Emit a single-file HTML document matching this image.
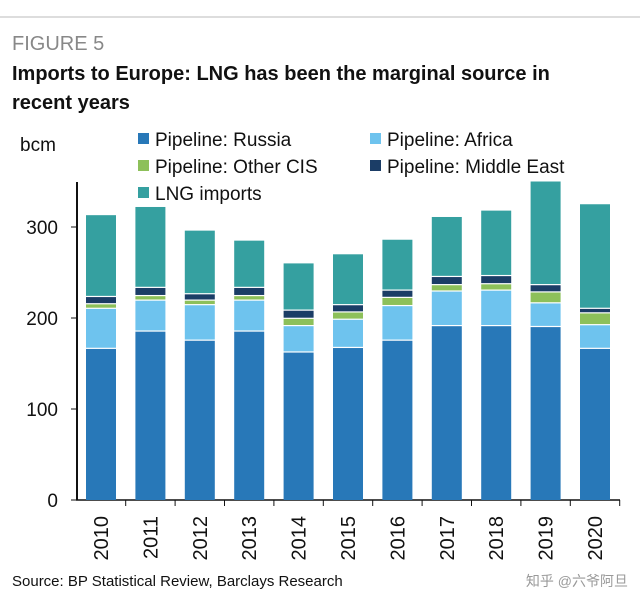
<!DOCTYPE html>
<html><head><meta charset="utf-8"><style>
body{margin:0;background:#fff;width:640px;height:601px;overflow:hidden;font-family:"Liberation Sans","Noto Sans CJK SC",sans-serif}
</style></head><body>
<svg width="640" height="601" xmlns="http://www.w3.org/2000/svg" font-family="Liberation Sans, Noto Sans CJK SC, sans-serif">
<line x1="0" y1="17" x2="640" y2="17" stroke="#bbb"/>
<text x="12" y="50" font-size="20" fill="#888">FIGURE 5</text>
<text x="12" y="80" font-size="20" font-weight="bold" fill="#111">Imports to Europe: LNG has been the marginal source in</text>
<text x="12" y="109" font-size="20" font-weight="bold" fill="#111">recent years</text>
<text x="20" y="151" font-size="19" fill="#111">bcm</text>
<g id="legend" font-size="19" fill="#111"></g>
<g id="axes"></g>
<g id="bars"></g>
<text x="12" y="586" font-size="15" fill="#111">Source: BP Statistical Review, Barclays Research</text>
<text x="628" y="586" font-size="14" fill="#999" text-anchor="end">知乎 @六爷阿旦</text>
</svg>
<script>
const years=["2010","2011","2012","2013","2014","2015","2016","2017","2018","2019","2020"];
const russia=[166,185,175,185,162,167,175,191,191,190,166];
const africa=[44,34,39,34,29,31,38,38,39,26,26];
const otherCIS=[5,5,5,5,8,8,9,7,7,12,13];
const middleEast=[8,9,7,9,9,8,8,9,9,8,5];
const lng=[90,89,70,52,52,56,56,66,72,114,115];
const yTicks=[0,100,200,300];
const seriesNames=["Pipeline: Russia","Pipeline: Africa","Pipeline: Other CIS","Pipeline: Middle East","LNG imports"];
const colors=["#2878b8","#6ec3ee","#8dc05a","#1b3d66","#35a0a0"];
const NS="http://www.w3.org/2000/svg";
const y=v=>500-v*0.91;
const x=i=>101+i*49.4;
function mk(t,a,p){const e=document.createElementNS(NS,t);for(const k in a)e.setAttribute(k,a[k]);p.appendChild(e);return e;}
const ax=document.getElementById('axes');
const al=mk('line',{x1:77,y1:182,x2:77,y2:500,stroke:'#111','stroke-width':2},ax);


const xl=mk('line',{x1:76,y1:500,x2:620,y2:500,stroke:'#111','stroke-width':1.5},ax);


yTicks.forEach(t=>{
 const tk=mk('line',{x1:71,y1:y(t),x2:77,y2:y(t),stroke:'#111'},ax);
 
 
 const l=mk('text',{x:58,y:y(t)+7,'font-size':19,'text-anchor':'end',fill:'#111'},ax);
 l.textContent=t;
 
 
});
years.forEach((yr,i)=>{
 const tk=mk('line',{x1:x(i)+24.7,y1:500,x2:x(i)+24.7,y2:506,stroke:'#111'},ax);
 
 
 const l=mk('text',{x:0,y:0,'font-size':20,'text-anchor':'end',fill:'#111',transform:`translate(${x(i)+7},516) rotate(-90)`},ax);
 l.textContent=yr;
 
 
});
const bars=document.getElementById('bars');
const series=[russia,africa,otherCIS,middleEast,lng];
years.forEach((yr,i)=>{
 let base=0;
 series.forEach((s,k)=>{
  const top=base+s[i];
  const y0=y(base),y1=y(top);
  const gap=k===0?0:1.2;
  const r=mk('rect',{x:x(i)-15,y:y1,width:30,height:Math.max(0.5,y0-y1-gap),fill:colors[k]},bars);
  
  
  base=top;
 });
});
const lg=document.getElementById('legend');
const pos=[[138,139],[370,139],[138,166],[370,166],[138,193]];
seriesNames.forEach((n,k)=>{
 const [lx,ly]=pos[k];
 const r=mk('rect',{x:lx,y:ly-6,width:11,height:11,fill:colors[k]},lg);
 
 
 const t=mk('text',{x:lx+17,y:ly+7},lg);
 t.textContent=n;
 
 
});
</script>
</body></html>
